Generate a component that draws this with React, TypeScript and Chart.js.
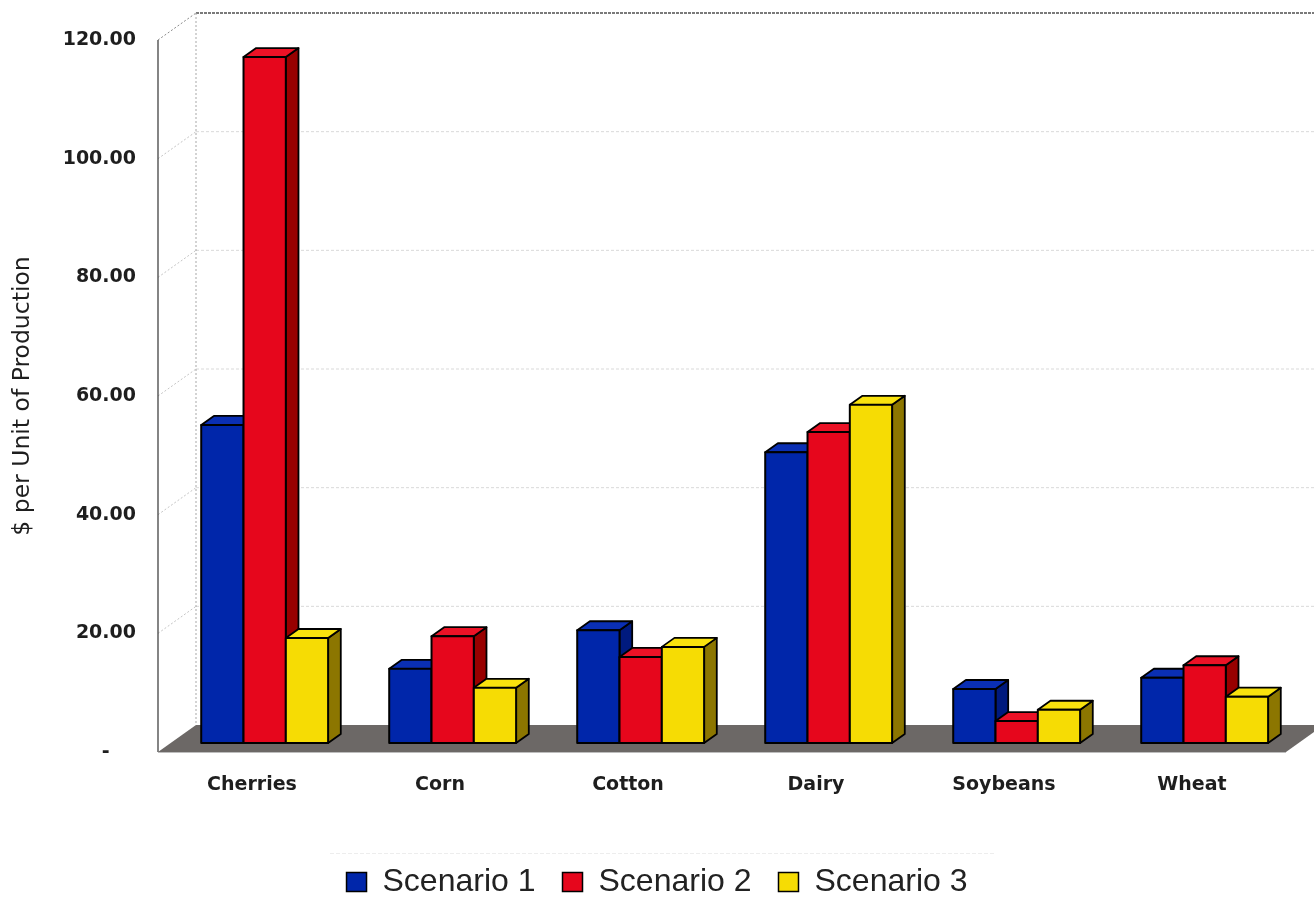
import { useEffect, useRef } from "react";
import { Chart, registerables } from "chart.js";

Chart.register(...registerables);

// Cost per unit of production by commodity, for three scenarios
const categories = ["Cherries", "Corn", "Cotton", "Dairy", "Soybeans", "Wheat"];
const seriesNames = ["Scenario 1", "Scenario 2", "Scenario 3"];
const scenario1 = [53.6, 12.5, 19.0, 49.0, 9.1, 11.0];
const scenario2 = [115.6, 18.0, 14.5, 52.4, 3.7, 13.1];
const scenario3 = [17.7, 9.3, 16.2, 57.0, 5.6, 7.8];
const yMin = 0;
const yMax = 120;
const yStep = 20;
const yTitle = "$ per Unit of Production";

const frontColors = ["#0026aa", "#e6061c", "#f6dc04"];
const sideColors = ["#001a7e", "#980000", "#8c7600"];
const topColors = ["#0a2fb4", "#ec1226", "#f9e20e"];

const W = 1314;
const H = 900;

// 3D projection of the plot box: depth vector of the walls/floor
const DEPTH_X = 38;
const DEPTH_Y = -27;

type Pt = [number, number];

function poly(ctx: CanvasRenderingContext2D, pts: Pt[], fill: string, stroke?: string, lw = 1.5) {
  ctx.beginPath();
  ctx.moveTo(pts[0][0], pts[0][1]);
  for (let k = 1; k < pts.length; k++) ctx.lineTo(pts[k][0], pts[k][1]);
  ctx.closePath();
  ctx.fillStyle = fill;
  ctx.fill();
  if (stroke) {
    ctx.lineWidth = lw;
    ctx.strokeStyle = stroke;
    ctx.stroke();
  }
}

function line(ctx: CanvasRenderingContext2D, x1: number, y1: number, x2: number, y2: number, color: string, width: number, dash: number[]) {
  ctx.beginPath();
  ctx.setLineDash(dash);
  ctx.strokeStyle = color;
  ctx.lineWidth = width;
  ctx.moveTo(x1, y1);
  ctx.lineTo(x2, y2);
  ctx.stroke();
  ctx.setLineDash([]);
}

const box3d = {
  id: "box3d",
  afterLayout(chart: any) {
    // centre the legend row on the full canvas and nudge it slightly lower
    chart.legend.left += 14;
    chart.legend.right += 14;
    chart.legend.top += 8;
    chart.legend.bottom += 8;
  },
  beforeDatasetsDraw(chart: any) {
    const { ctx, chartArea: a, scales } = chart;
    const ys = scales.y;
    ctx.save();

    // back wall
    const bx0 = a.left + DEPTH_X;
    const bx1 = a.right + DEPTH_X;
    const by0 = a.top + DEPTH_Y;
    const by1 = a.bottom + DEPTH_Y;
    ctx.fillStyle = "#ffffff";
    ctx.fillRect(bx0, by0, bx1 - bx0, by1 - by0);

    for (let v = yMin + yStep; v < yMax; v += yStep) {
      const py = ys.getPixelForValue(v);
      line(ctx, bx0, py + DEPTH_Y, bx1, py + DEPTH_Y, "#d9d9d9", 1, [3, 2]);
      line(ctx, a.left, py, bx0, py + DEPTH_Y, "#c4c4c4", 1, [2, 2]);
    }
    // wall outlines
    line(ctx, bx0, by0, bx1, by0, "#7a7a7a", 2, [3, 1]);
    line(ctx, a.left, a.top, bx0, by0, "#8a8a8a", 1, [2, 2]);
    line(ctx, bx0, by0, bx0, by1, "#a8a8a8", 1, [2, 2]);
    line(ctx, a.left, a.top, a.left, a.bottom, "#333333", 1.2, []);

    // floor
    poly(ctx, [
      [a.left, a.bottom],
      [a.right, a.bottom],
      [a.right + DEPTH_X, a.bottom + DEPTH_Y],
      [a.left + DEPTH_X, a.bottom + DEPTH_Y],
    ], "#6c6866");
    line(ctx, a.left, a.bottom + 0.5, a.right, a.bottom + 0.5, "#bdbdbd", 1, []);

    // faint rule above the legend
    line(ctx, 330, 853.5, 995, 853.5, "#ededed", 1, [4, 2]);

    // bars as boxes sitting in the middle third of the floor depth
    const fx = DEPTH_X / 3;
    const fy = DEPTH_Y / 3;
    const dx = DEPTH_X / 3;
    const dy = DEPTH_Y / 3;
    ctx.lineJoin = "round";
    const n = chart.data.labels.length;
    for (let j = 0; j < n; j++) {
      for (let i = 0; i < chart.data.datasets.length; i++) {
        const el = chart.getDatasetMeta(i).data[j];
        if (!el) continue;
        const l = el.x - el.width / 2 + fx;
        const r = el.x + el.width / 2 + fx;
        const t = el.y + fy;
        const b = el.base + fy;
        poly(ctx, [[r, t], [r + dx, t + dy], [r + dx, b + dy], [r, b]], sideColors[i], "#000", 1.8);
        poly(ctx, [[l, t], [l + dx, t + dy], [r + dx, t + dy], [r, t]], topColors[i], "#000", 1.8);
        poly(ctx, [[l, t], [r, t], [r, b], [l, b]], frontColors[i], "#000", 2);
      }
    }
    ctx.restore();
    return false;
  },
};

export default function App() {
  const ref = useRef<HTMLCanvasElement | null>(null);

  useEffect(() => {
    if (!ref.current) return;
    const values = [scenario1, scenario2, scenario3];
    const chart = new Chart(ref.current, {
      type: "bar",
      data: {
        labels: categories,
        datasets: seriesNames.map((name, i) => ({
          label: name,
          data: values[i],
          backgroundColor: frontColors[i],
          borderColor: "#000000",
          borderWidth: 1.5,
          categoryPercentage: 0.675,
          barPercentage: 1.0,
        })),
      },
      options: {
        responsive: false,
        animation: false,
        devicePixelRatio: 1,
        layout: { padding: { left: 0, right: 28, top: 40, bottom: 0 } },
        plugins: {
          tooltip: { enabled: false },
          legend: {
            position: "bottom",
            labels: {
              boxWidth: 20,
              boxHeight: 19,
              padding: 27,
              color: "#222222",
              font: { family: "'Liberation Sans', Arial, sans-serif", size: 32, lineHeight: 1 },
            },
          },
        },
        scales: {
          x: {
            grid: { display: false, drawTicks: false },
            border: { display: false },
            ticks: {
              color: "#1e1e1e",
              padding: 22,
              font: { family: "'DejaVu Sans', Verdana, sans-serif", size: 19, weight: "bold" },
            },
            afterFit: (s: any) => {
              s.height = 79;
            },
          },
          y: {
            min: yMin,
            max: yMax,
            grid: { display: false, drawTicks: false },
            border: { display: false },
            ticks: {
              stepSize: yStep,
              color: "#1e1e1e",
              padding: 22,
              font: { family: "'DejaVu Sans', Verdana, sans-serif", size: 19, weight: "bold" },
              callback: (v: any) => (Number(v) === 0 ? "-    " : Number(v).toFixed(2)),
            },
            title: {
              display: true,
              text: yTitle,
              color: "#1e1e1e",
              padding: { top: 9, bottom: 0 },
              font: { family: "'DejaVu Sans', Verdana, sans-serif", size: 23.5, weight: "normal" },
            },
            afterFit: (s: any) => {
              s.width = 158;
            },
          },
        },
      },
      plugins: [box3d],
    });
    return () => chart.destroy();
  }, []);

  return (
    <div style={{ position: "absolute", left: 0, top: 0, width: W, height: H, background: "#ffffff" }}>
      <canvas ref={ref} width={W} height={H} style={{ display: "block" }} />
    </div>
  );
}
